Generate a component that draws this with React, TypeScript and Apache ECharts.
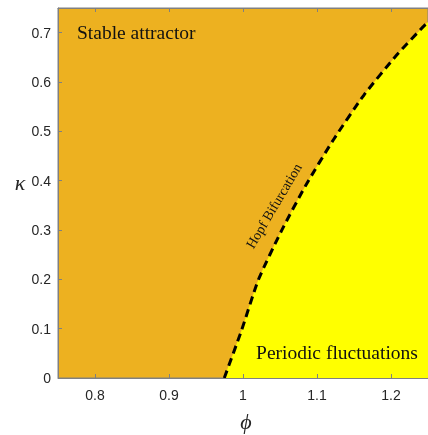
import React, { useEffect, useRef } from "react";
import * as echarts from "echarts";

const phiTicks = [0.8, 0.9, 1.0, 1.1, 1.2];
const kappaTicks = [0, 0.1, 0.2, 0.3, 0.4, 0.5, 0.6, 0.7];
const hopfPhi = [0.9747, 0.9982, 1.0207, 1.0523, 1.0851, 1.122, 1.1635, 1.2077, 1.2436, 1.25];
const hopfKappa = [0, 0.0973, 0.1987, 0.2993, 0.3912, 0.4825, 0.5736, 0.6547, 0.7122, 0.7216];

export default function App() {
  const ref = useRef<HTMLDivElement>(null);
  useEffect(() => {
    const chart = echarts.init(ref.current!, null, { renderer: "svg" });
    const data = hopfPhi.map((p, i) => [p, hopfKappa[i]]);
    const axisColor = "#808080";
    const labelStyle = { color: "#262626", fontSize: 14, fontFamily: "Liberation Sans" };
    const serif = "'Liberation Serif', serif";
    chart.setOption({
      animation: false,
      grid: {
        left: 58,
        right: 0,
        top: 8,
        bottom: 57,
        show: true,
        backgroundColor: "#EDB120",
        borderColor: axisColor,
        borderWidth: 1,
      },
      xAxis: [
        {
          type: "value",
          min: 0.75,
          max: 1.25,
          z: 10,
          axisLine: { show: true, lineStyle: { color: axisColor } },
          axisTick: { show: true, inside: true, length: 4, customValues: phiTicks, lineStyle: { color: axisColor } },
          axisLabel: { ...labelStyle, margin: 10, customValues: phiTicks, formatter: (v: number) => String(+v.toFixed(1)) },
          splitLine: { show: false },
        },
        {
          type: "value",
          position: "top",
          min: 0.75,
          max: 1.25,
          z: 10,
          axisLine: { show: true, lineStyle: { color: axisColor } },
          axisTick: { show: true, inside: true, length: 4, customValues: phiTicks, lineStyle: { color: axisColor } },
          axisLabel: { show: false },
          splitLine: { show: false },
        },
      ],
      yAxis: {
        type: "value",
        min: 0,
        max: 0.75,
        z: 10,
        axisLine: { show: true, lineStyle: { color: axisColor } },
        axisTick: { show: true, inside: true, length: 4, customValues: kappaTicks, lineStyle: { color: axisColor } },
        axisLabel: { ...labelStyle, margin: 7, customValues: kappaTicks, formatter: (v: number) => String(+v.toFixed(1)) },
        splitLine: { show: false },
      },
      series: [
        {
          type: "line",
          data,
          smooth: 0.2,
          symbol: "none",
          lineStyle: { color: "#000", width: 3, type: [8, 5] },
          areaStyle: { color: "#FFFF00", opacity: 1, origin: "start" },
          z: 3,
        },
      ],
      graphic: [
        {
          type: "text",
          x: 77,
          y: 32,
          z: 100,
          style: { text: "Stable attractor", fontSize: 19.5, fontFamily: serif, fill: "#111", verticalAlign: "middle" },
        },
        {
          type: "text",
          x: 337,
          y: 352,
          z: 100,
          style: { text: "Periodic fluctuations", fontSize: 19.5, fontFamily: serif, fill: "#111", align: "center", verticalAlign: "middle" },
        },
        {
          type: "text",
          x: 274,
          y: 206,
          z: 100,
          rotation: (59.4 * Math.PI) / 180,
          style: { text: "Hopf Bifurcation", fontSize: 14, fontFamily: serif, fill: "#111", align: "center", verticalAlign: "middle" },
        },
        {
          type: "text",
          x: 246,
          y: 421,
          z: 100,
          style: { text: "\u03d5", fontSize: 22, fontStyle: "italic", fontFamily: serif, fill: "#262626", align: "center", verticalAlign: "middle" },
        },
        {
          type: "text",
          x: 20,
          y: 182,
          z: 100,
          style: { text: "\u03ba", fontSize: 22, fontStyle: "italic", fontFamily: serif, fill: "#262626", align: "center", verticalAlign: "middle" },
        },
      ],
    });
    return () => chart.dispose();
  }, []);
  return <div ref={ref} style={{ position: "fixed", left: 0, top: 0, width: 428, height: 435 }} />;
}
